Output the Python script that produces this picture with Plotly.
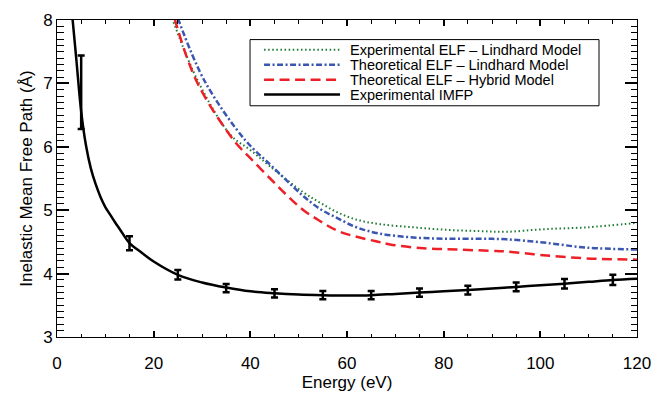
import plotly.graph_objects as go

# ---- data ----
imfp_E = [3.2, 4, 5, 6, 7, 8, 9, 10, 11, 12, 13, 15, 17, 20, 25, 30, 35, 40, 45, 50, 55, 60, 65, 70, 75, 80, 85, 90, 95, 100, 105, 110, 115, 120]
imfp_V = [8.03, 7.38, 6.56, 6.02, 5.66, 5.41, 5.21, 5.05, 4.93, 4.81, 4.70, 4.48, 4.36, 4.19, 3.98, 3.86, 3.78, 3.72, 3.69, 3.67, 3.66, 3.655, 3.66, 3.68, 3.70, 3.72, 3.74, 3.765, 3.79, 3.815, 3.84, 3.87, 3.90, 3.92]

pts_E = [5, 15, 25, 35, 45, 55, 65, 75, 85, 95, 105, 115]
pts_V = [6.86, 4.48, 3.98, 3.77, 3.69, 3.66, 3.66, 3.70, 3.74, 3.79, 3.84, 3.90]
pts_err = [0.58, 0.11, 0.075, 0.065, 0.065, 0.065, 0.065, 0.065, 0.07, 0.07, 0.075, 0.08]

expL_E = [23.8, 29.2, 36, 40, 44.1, 51, 54.4, 57.9, 62, 66.8, 73.7, 80.6, 87.5, 93, 100.6, 109.6, 120]
expL_V = [8.03, 7.03, 6.18, 5.95, 5.69, 5.28, 5.12, 4.97, 4.85, 4.78, 4.73, 4.69, 4.67, 4.66, 4.70, 4.73, 4.80]

thL_E = [25.0, 30.6, 39.0, 44.1, 47.5, 51.0, 54.4, 57.9, 62.0, 66.8, 73.7, 80.6, 87.5, 93, 100.6, 109.6, 120]
thL_V = [8.03, 7.03, 6.10, 5.72, 5.47, 5.22, 5.02, 4.88, 4.73, 4.63, 4.57, 4.55, 4.55, 4.54, 4.49, 4.41, 4.38]

thH_E = [24.3, 28.9, 36.6, 39.9, 44.1, 47.5, 51.0, 54.4, 57.9, 62.0, 66.0, 68.9, 75.8, 82.7, 89.6, 93, 100.6, 109.6, 120]
thH_V = [8.03, 7.03, 6.10, 5.83, 5.50, 5.24, 5.00, 4.83, 4.68, 4.58, 4.51, 4.46, 4.40, 4.38, 4.36, 4.35, 4.29, 4.24, 4.22]

names = ["Experimental ELF \u2013 Lindhard Model",
         "Theoretical ELF \u2013 Lindhard Model",
         "Theoretical ELF \u2013 Hybrid Model",
         "Experimental IMFP"]
colors = ["#1f7a34", "#3a56b0", "#ee2027", "#000000"]
dashes = ["1.5px,2.6px", "6px,2.5px,2px,2.5px", "10px,5.5px", "solid"]
widths = [2, 2.5, 2.5, 2.5]

FONT = "Liberation Sans, Arial, Helvetica, sans-serif"

fig = go.Figure()
series = [(expL_E, expL_V), (thL_E, thL_V), (thH_E, thH_V), (imfp_E, imfp_V)]
for (ex, vy), n, c, d, w in zip(series, names, colors, dashes, widths):
    fig.add_trace(go.Scatter(x=ex, y=vy, mode="lines", name=n, showlegend=False,
                             line=dict(color=c, dash=d, width=w, shape="spline", smoothing=1.0)))

fig.add_trace(go.Scatter(x=pts_E, y=pts_V, mode="markers", showlegend=False,
                         marker=dict(size=1, color="black", opacity=0),
                         error_y=dict(type="data", array=pts_err, visible=True,
                                      color="black", thickness=2.5, width=3.5)))

# ---- manual legend (box, samples, labels) ----
bx0, bx1, by0, by1 = 0.3328, 0.9345, 0.7294, 0.9382
shapes = [dict(type="rect", xref="paper", yref="paper", x0=bx0, x1=bx1, y0=by0, y1=by1,
               line=dict(color="black", width=1), fillcolor="white", layer="above")]
rows_px = [43, 59, 75, 91]
rows_y = [(351 - p) / 340 for p in rows_px]
annotations = []
for ry, n, c, d, w in zip(rows_y, names, colors, dashes, widths):
    shapes.append(dict(type="line", xref="paper", yref="paper", x0=0.357, x1=0.488, y0=ry, y1=ry,
                       line=dict(color=c, dash=d, width=w), layer="above"))
    annotations.append(dict(xref="paper", yref="paper", x=0.503, y=ry, text=n, showarrow=False,
                            xanchor="left", yanchor="middle", borderpad=0,
                            font=dict(family=FONT, size=14.5, color="black")))

axis_common = dict(showline=True, linecolor="black", linewidth=1, mirror="allticks",
                   ticks="inside", tickcolor="black", tickwidth=1.5, showgrid=False,
                   zeroline=False, tickfont=dict(family=FONT, size=17, color="black"))

fig.update_layout(
    width=666, height=396,
    margin=dict(l=57, r=29, t=11, b=45),
    paper_bgcolor="white", plot_bgcolor="white",
    font=dict(family=FONT, size=17, color="black"),
    shapes=shapes, annotations=annotations,
    xaxis=dict(range=[0, 120], dtick=20, tick0=0, ticklen=6, ticklabelstandoff=11,
               minor=dict(dtick=5, ticklen=3.5, ticks="inside", tickcolor="black", tickwidth=1.3),
               title=dict(text="Energy (eV)", font=dict(family=FONT, size=17), standoff=0),
               **axis_common),
    yaxis=dict(range=[3, 8], dtick=1, tick0=3, ticklen=12,
               minor=dict(dtick=0.1, ticklen=6.5, ticks="inside", tickcolor="black", tickwidth=1.3),
               title=dict(text="Inelastic Mean Free Path (\u00c5)", font=dict(family=FONT, size=17), standoff=6),
               **axis_common),
)

fig.write_html("out.html")
